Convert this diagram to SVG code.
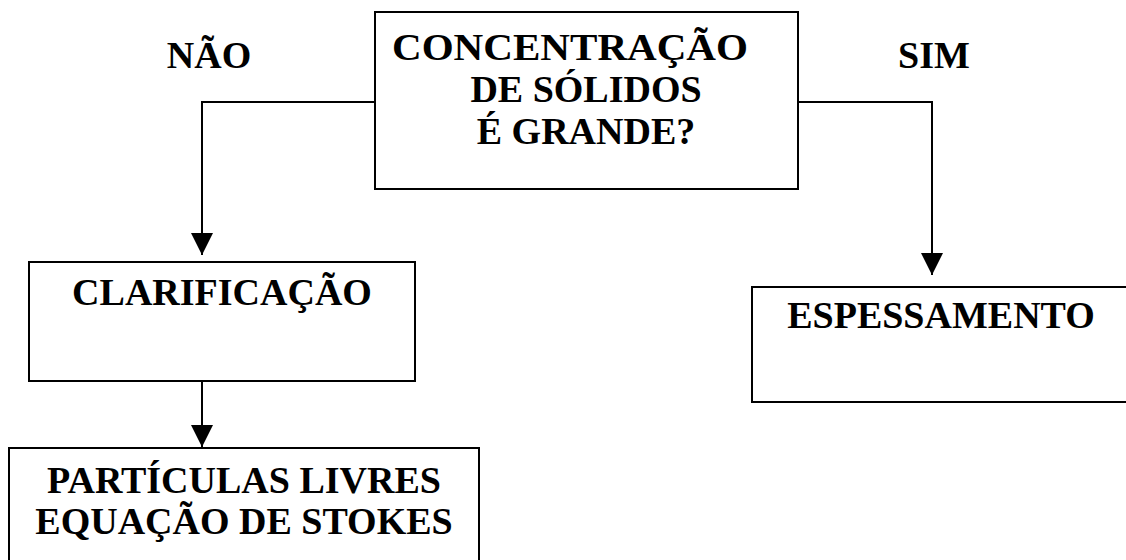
<svg xmlns="http://www.w3.org/2000/svg" width="1126" height="560" viewBox="0 0 1126 560">
<defs>
<style>
.box{fill:#fff;stroke:#000;stroke-width:2}
.ln{fill:none;stroke:#000;stroke-width:2}
.t{font-family:"Liberation Serif","Times New Roman",serif;font-weight:bold;font-size:38px;fill:#000;text-anchor:middle}
.wide{text-anchor:start}
</style>
<marker id="ah" markerUnits="userSpaceOnUse" markerWidth="22" markerHeight="22" refX="20" refY="10" orient="auto" viewBox="0 0 20 20">
<path d="M0,0 L20,10 L0,20 Z" fill="#000"/>
</marker>
</defs>
<g id="connectors">
<path class="ln" d="M375,102 H202 V255" marker-end="url(#ah)"/>
<path class="ln" d="M797,102 H932 V275" marker-end="url(#ah)"/>
<path class="ln" d="M202,372 V447" marker-end="url(#ah)"/>
</g>
<g id="decision">
<rect class="box" x="375" y="12" width="423" height="177"/>
<text class="t wide" x="392" y="60" textLength="356" lengthAdjust="spacingAndGlyphs">CONCENTRAÇÃO</text>
<text class="t" x="586" y="102">DE SÓLIDOS</text>
<text class="t" x="586" y="144">É GRANDE?</text>
</g>
<g id="label-nao"><text class="t" x="209" y="68">NÃO</text></g>
<g id="label-sim"><text class="t" x="934" y="68">SIM</text></g>
<g id="clarificacao">
<rect class="box" x="29" y="262" width="386" height="119"/>
<text class="t" x="222" y="305">CLARIFICAÇÃO</text>
</g>
<g id="particulas">
<rect class="box" x="9" y="448" width="470" height="130"/>
<text class="t" x="244" y="493">PARTÍCULAS LIVRES</text>
<text class="t" x="244" y="534">EQUAÇÃO DE STOKES</text>
</g>
<g id="espessamento">
<rect class="box" x="752" y="287" width="390" height="115"/>
<text class="t" x="941" y="328">ESPESSAMENTO</text>
</g>
</svg>
